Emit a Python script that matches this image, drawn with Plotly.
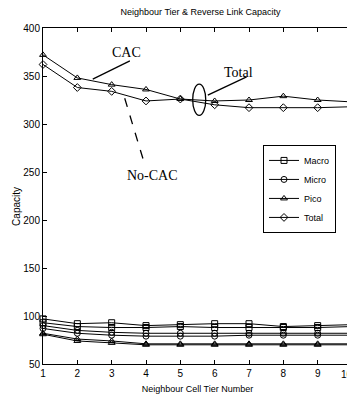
import plotly.graph_objects as go

tiers = [1, 2, 3, 4, 5, 6, 7, 8, 9, 10]

total_cac = [372, 348, 341, 336, 326, 324, 325, 329, 325, 323]
total_nocac = [362, 338, 334, 324, 326, 320, 317, 317, 317, 318]

macro_cac = [97, 92, 93, 90, 91, 92, 92, 89, 90, 91]
macro_nocac = [93, 89, 88, 88, 89, 88, 88, 88, 88, 89]
micro_cac = [90, 85, 83, 82, 82, 82, 82, 82, 82, 82]
micro_nocac = [87, 82, 80, 79, 79, 79, 80, 80, 80, 80]
pico_cac = [82, 76, 74, 71, 71, 71, 71, 71, 71, 71]
pico_nocac = [81, 74, 72, 70, 70, 70, 70, 70, 70, 70]

y_ticks = [50, 100, 150, 200, 250, 300, 350, 400]

series = [
    (macro_cac, "square-open"),
    (macro_nocac, "square-open"),
    (micro_cac, "circle-open"),
    (micro_nocac, "circle-open"),
    (pico_cac, "triangle-up-open"),
    (pico_nocac, "triangle-up-open"),
    (total_cac, "triangle-up-open"),
    (total_nocac, "diamond-open"),
]

sans = "Liberation Sans, Arial, sans-serif"

fig = go.Figure()
for vals, sym in series:
    fig.add_trace(go.Scatter(
        x=tiers, y=vals, mode="lines+markers", showlegend=False,
        line=dict(color="black", width=1),
        marker=dict(symbol=sym, size=6, color="black", line=dict(width=1, color="black")),
        cliponaxis=False,
    ))

for name, sym in [("Macro", "square-open"), ("Micro", "circle-open"),
                  ("Pico", "triangle-up-open"), ("Total", "diamond-open")]:
    fig.add_trace(go.Scatter(
        x=[None], y=[None], mode="lines+markers", name=name,
        line=dict(color="black", width=1),
        marker=dict(symbol=sym, size=6, color="black", line=dict(width=1, color="black")),
    ))

serif = dict(family="Liberation Serif, Times New Roman, serif", size=14, color="black")
fig.add_annotation(x=3.44, y=375, text="CAC", showarrow=False, font=serif)
fig.add_annotation(x=4.2, y=246, text="No-CAC", showarrow=False, font=serif)
fig.add_annotation(x=6.7, y=354, text="Total", showarrow=False, font=serif)

# y axis title, placed like the reference
fig.add_annotation(x=-0.088, y=0.47, xref="paper", yref="paper", text="Capacity",
                   textangle=-90, showarrow=False, xanchor="center", yanchor="middle",
                   font=dict(family=sans, size=10, color="black"))

# last x tick label, kept inside the page edge
fig.add_annotation(x=10, y=0, xref="x", yref="paper", yanchor="top", xanchor="right",
                   yshift=-3, xshift=3, text="10", showarrow=False,
                   font=dict(family=sans, size=10, color="black"))

fig.add_shape(type="line", x0=3.53, y0=365.7, x1=2.45, y1=346.8,
              line=dict(color="black", width=1.3))
fig.add_shape(type="line", x0=3.38, y0=326.8, x1=3.91, y1=264,
              line=dict(color="black", width=1.3, dash="dash"))
fig.add_shape(type="line", x0=6.93, y0=349, x1=5.8, y1=330,
              line=dict(color="black", width=1.3))
fig.add_shape(type="circle", x0=5.36, y0=309, x1=5.74, y1=341.6,
              line=dict(color="black", width=1.3))

axis_common = dict(
    showgrid=False, zeroline=False, showline=True, linecolor="black", linewidth=1,
    mirror="ticks", ticks="inside", ticklen=4, tickcolor="black",
    tickfont=dict(family=sans, size=10, color="black"),
)

# the page body has an 8px margin, so the figure is sized to fit the window
fig.update_layout(
    width=347, height=391,
    margin=dict(l=35, r=3, t=20, b=35),
    paper_bgcolor="white", plot_bgcolor="white",
    title=dict(text="Neighbour Tier & Reverse Link Capacity", x=0.555, xanchor="center",
               yref="container", y=0.99, yanchor="middle",
               font=dict(family=sans, size=9, color="black")),
    xaxis=dict(range=[1, 10], tickvals=tiers[:-1],
               title=dict(text="Neighbour Cell Tier Number", standoff=7,
                          font=dict(family=sans, size=9, color="black")),
               **axis_common),
    yaxis=dict(range=[50, 400], tickvals=y_ticks, **axis_common),
    legend=dict(x=0.712, y=0.652, xanchor="left", yanchor="top",
                bgcolor="white", bordercolor="black", borderwidth=1,
                font=dict(family=sans, size=9, color="black"),
                tracegroupgap=0, itemwidth=30),
)

fig.write_html("out.html")
